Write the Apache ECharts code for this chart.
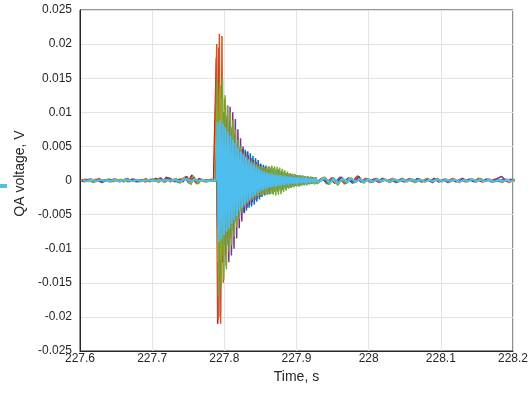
<!DOCTYPE html>
<html>
<head>
<meta charset="utf-8">
<script src="https://cdn.jsdelivr.net/npm/echarts@6/dist/echarts.min.js"></script>
<style>
  html, body { margin: 0; padding: 0; background: #fff; }
  #chart { width: 531px; height: 395px; }
</style>
</head>
<body>
<div id="chart"></div>
<script>
// sample timing of the three stretches (s)
const preStart = 227.6, preStep = 0.005;
const burstStart = 227.789, burstStep = 0.0018;
const postStart = 227.935, postStep = 0.006;

// values in units of 0.1 mV
const bluePre = [1,-2,0,2,-1,1,-3,0,2,-1,0,1,-2,3,-1,0,-2,1,0,-1,2,-1,3,-2,4,-1,2,-3,1,5,-4,3,-2,1,0,-2,1,-1];
const blueBurst = [90,-100,95,-105,110,-98,100,-92,88,-95,85,-80,78,-74,66,-60,55,-52,48,-46,46,-47,45,-44,43,-40,40,-38,36,-35,33,-31,30,-28,25,-24,23,-22,22,-21,20,-20,19,-19,18,-17,17,-16,16,-15,14,-14,13,-12,11,-11,10,-10,9,-9,9,-8,8,-8,7,-7,7,-6,6,-6,6,-5,5,-5,5,-4,4,-4];
const bluePost = [4,-5,3,-4,5,-3,4,-4,3,-2,3,-3,2,-2,3,-1,2,-3,2,-2,1,-2,3,-2,2,-1,2,-2,1,-3,2,-1,2,-2,1,-2,3,-1,2,-2,1,-2,2,-1,1];

const orangePre = [-1,2,1,-2,0,3,-1,1,-2,2,0,-1,1,-2,2,0,1,-1,3,-2,1,0,4,-1,3,2,-2,1,0,6,-3,7,-5,2,-1,0,2,-1];
const orangeBurst = [200,-205,215,-210,212,-150,120,-110,95,-90,80,-85,70,-66,60,-55,50,-48,44,-40,38,-36,34,-33,31,-29,28,-27,26,-24,23,-22,21,-20,20,-19,18,-18,17,-16,16,-15,15,-14,13,-13,12,-11,11,-10,10,-9,9,-9,8,-8,8,-7,7,-7,6,-6,6,-6,5,-5,5,-5,5,-4,4,-4,4,-4,3,-3,4,-3];
const orangePost = [3,-4,4,-3,2,-5,3,-2,7,-2,3,-2,2,-3,2,-1,3,-2,2,-1,3,-2,1,-2,3,-2,2,-1,2,-2,3,-1,2,-2,2,-1,3,-2,1,-2,2,-1,2,-3,2];

const yellowPre = [1,0,-2,1,2,-1,0,1,-1,-2,1,2,-1,0,1,-1,0,2,-2,1,-1,2,1,-3,3,0,1,-2,3,5,-4,6,-2,2,-2,0,1,-1];
const yellowBurst = [110,-120,130,-115,120,-110,105,-100,95,-92,88,-85,80,-75,70,-64,57,-54,50,-46,42,-41,39,-37,35,-33,31,-30,28,-27,26,-25,23,-22,21,-21,19,-19,18,-18,19,-18,18,-17,17,-16,16,-15,14,-14,13,-13,12,-11,11,-10,9,-10,9,-8,8,-8,7,-7,7,-6,6,-6,5,-6,5,-5,5,-4,4,-5,4,-4];
const yellowPost = [5,-4,3,-5,4,-3,3,-3,4,-2,2,-3,3,-2,2,-2,3,-1,2,-2,2,-3,2,-1,3,-2,2,-2,1,-2,2,-1,3,-2,2,-1,2,-2,1,-2,2,-2,1,-2,2];

const purplePre = [-1,0,2,-1,1,-2,1,0,-1,2,-1,0,1,-1,2,-2,1,0,-1,2,0,1,3,-2,4,1,-1,2,-2,6,-2,5,-3,2,0,-1,1,0];
const purpleBurst = [60,-70,75,-80,85,-95,100,-125,110,-120,108,-110,100,-100,90,-85,75,-70,62,-60,50,-48,42,-40,37,-36,33,-32,30,-29,27,-26,24,-24,22,-21,20,-20,18,-18,17,-17,16,-16,15,-15,14,-14,13,-13,12,-12,11,-11,10,-10,9,-9,8,-8,7,-7,7,-6,6,-6,5,-5,5,-5,4,-5,4,-4,4,-4,3,-4];
const purplePost = [3,-5,4,-3,5,-4,2,-3,6,-2,2,-2,3,-2,1,-2,2,-2,3,-1,2,-2,2,-1,2,-3,2,-1,2,-2,1,-2,3,-1,2,-2,2,-1,2,-2,3,6,-1,2,-1];

const greenPre = [2,-1,1,-3,0,1,-1,2,-2,0,1,-1,3,-2,0,1,-2,1,-1,0,2,-3,1,-2,2,-1,3,-4,2,3,-6,4,-5,1,-2,1,0,-1];
const greenBurst = [150,-170,140,-155,150,-145,125,-130,110,-105,100,-95,88,-82,74,-68,60,-56,50,-47,40,-38,35,-34,32,-30,29,-28,27,-25,24,-23,22,-22,21,-21,20,-21,20,-20,21,-20,22,-21,21,-22,20,-21,19,-20,17,-17,15,-15,13,-12,11,-11,10,-10,9,-9,8,-9,8,-8,7,-7,6,-7,6,-6,6,-5,5,-6,5,-5];
const greenPost = [5,-6,4,-7,3,-4,4,-3,3,-4,2,-3,3,-2,2,-3,1,-2,3,-2,2,-3,2,-2,1,-2,3,-2,2,-1,2,-3,1,-2,2,-2,3,-1,2,-2,1,-3,2,-1,2];

const redPre = [0,1,-1,2,-2,1,0,-1,1,0,2,-2,1,-1,0,2,-1,1,-2,1,0,3,2,-1,5,-2,1,-1,2,4,-2,8,-3,3,-1,1,-1,0];
const redBurst = [180,-210,195,-200,140,-120,100,-95,90,-80,75,-70,65,-62,56,-52,47,-44,41,-38,36,-35,33,-31,30,-28,27,-25,24,-23,22,-21,20,-19,19,-18,17,-17,16,-15,15,-14,14,-13,12,-12,11,-11,10,-10,9,-9,8,-8,8,-7,7,-7,6,-6,6,-5,5,-5,5,-5,4,-4,4,-4,4,-4,3,-3,3,-3,3,-3];
const redPost = [3,-3,2,-4,3,-2,2,-3,5,-2,2,-1,2,-2,3,-1,2,-2,1,-2,2,-1,2,-2,2,-1,3,-2,1,-1,2,-2,2,-1,2,-1,1,-2,2,-1,2,-1,2,-2,1];

const cyanPre = [0,-1,1,0,-1,1,0,-1,0,1,-1,0,1,0,-1,1,0,-1,1,0,-1,1,0,1,-1,1,0,-1,1,2,-1,2,-1,1,0,-1,0,1];
const cyanBurst = [85,-90,88,-86,84,-80,78,-75,72,-70,66,-63,60,-58,55,-52,48,-45,42,-40,38,-36,34,-32,30,-28,26,-25,23,-22,20,-19,17,-16,15,-14,13,-13,12,-11,11,-10,10,-9,9,-9,8,-8,8,-7,7,-7,7,-6,6,-6,6,-5,5,-5,5,-5,5,-4,4,-4,4,-4,4,-4,3,-3,3,-3,3,-3,3,-3];
const cyanPost = [4,-4,3,-4,3,-3,3,-2,2,-2,2,-2,2,-1,1,-2,2,-1,1,-1,2,-1,1,-2,1,-1,2,-1,1,-1,1,-2,1,-1,2,-1,1,-1,1,-2,1,-1,1,-1,1];

const xTicks = [227.6, 228.2, 0.1];
const yTicks = [-0.025, 0.025, 0.005];

// each channel is sampled with its own small time shift (fraction of a step)
function toPoints(pre, burst, post, shift) {
    let pts = [];
    pre.forEach((v, k) => pts.push([preStart + (k + shift) * preStep, v * 1e-4]));
    burst.forEach((v, k) => pts.push([burstStart + (k + shift) * burstStep, v * 1e-4]));
    post.forEach((v, k) => pts.push([postStart + (k + shift) * postStep, v * 1e-4]));
    return pts;
}

// drawn in this order, the light blue one ends on top
let lines = [
    ['#A2142F', redPre, redBurst, redPost],
    ['#0072BD', bluePre, blueBurst, bluePost],
    ['#D95319', orangePre, orangeBurst, orangePost],
    ['#EDB120', yellowPre, yellowBurst, yellowPost],
    ['#7E2F8E', purplePre, purpleBurst, purplePost],
    ['#77AC30', greenPre, greenBurst, greenPost],
    ['#4DBEEE', cyanPre, cyanBurst, cyanPost]
];

let font = "'Liberation Sans', Arial, sans-serif";
let chart = echarts.init(document.getElementById('chart'));

chart.setOption({
    animation: false,
    grid: {
        left: 80, right: 18, top: 10, bottom: 44,
        show: true, borderColor: '#262626', borderWidth: 1
    },
    xAxis: {
        type: 'value',
        min: xTicks[0], max: xTicks[1], interval: xTicks[2],
        name: 'Time, s',
        nameLocation: 'middle',
        nameGap: 16,
        nameTextStyle: { fontFamily: font, fontSize: 14, color: '#262626' },
        axisLine: { show: true, onZero: false, lineStyle: { color: '#262626' } },
        axisTick: { show: false },
        axisLabel: {
            fontFamily: font, fontSize: 12, color: '#262626', margin: 2,
            formatter: v => String(parseFloat(v.toFixed(1)))
        },
        splitLine: { show: true, lineStyle: { color: '#e3e3e3' } }
    },
    yAxis: {
        type: 'value',
        min: yTicks[0], max: yTicks[1], interval: yTicks[2],
        name: 'QA voltage, V',
        nameLocation: 'middle',
        nameGap: 50,
        nameTextStyle: { fontFamily: font, fontSize: 14, color: '#262626', padding: [0, 0, 0, 14] },
        axisLine: { show: true, onZero: false, lineStyle: { color: '#262626' } },
        axisTick: { show: false },
        axisLabel: {
            fontFamily: font, fontSize: 12, color: '#262626', margin: 8,
            formatter: v => String(parseFloat(v.toFixed(3)))
        },
        splitLine: { show: true, lineStyle: { color: '#e3e3e3' } }
    },
    graphic: [{
        type: 'rect',
        left: 0, top: 184,
        shape: { width: 7, height: 4 },
        style: { fill: '#4DBEEE' }
    }],
    series: lines.map((l, i) => ({
        type: 'line',
        data: toPoints(l[1], l[2], l[3], i / lines.length),
        showSymbol: false,
        symbol: 'none',
        sampling: null,
        lineStyle: { color: l[0], width: i === lines.length - 1 ? 2 : 1.5 },
        emphasis: { disabled: true }
    }))
});
</script>
</body>
</html>
